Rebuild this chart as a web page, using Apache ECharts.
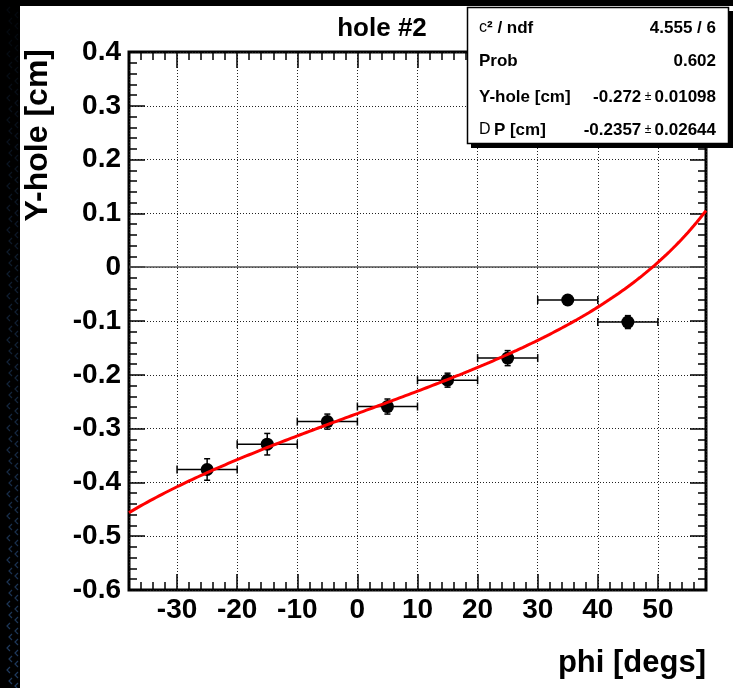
<!DOCTYPE html>
<html>
<head>
<meta charset="utf-8">
<script src="https://cdn.jsdelivr.net/npm/echarts@6/dist/echarts.min.js"></script>
<style>
  html, body { margin: 0; padding: 0; background: #000; }
  #chart { width: 733px; height: 688px; }
</style>
</head>
<body>
<div id="chart"></div>
<script>
// Measured hole position per phi bin
const phiCenters    = [-25, -15, -5, 5, 15, 25, 35, 45];
const phiHalfWidths = [5, 5, 5, 5, 5, 5, 5, 5];
const yHoleValues   = [-0.376, -0.329, -0.287, -0.259, -0.210, -0.169, -0.061, -0.102];
const yHoleErrors   = [0.020, 0.020, 0.014, 0.014, 0.013, 0.014, 0.008, 0.012];

// Fit result: y = Yhole - dP * tan(phi)
const fitYHole  = -0.272;
const fitDeltaP = -0.2357;

// Axis ranges
const phiRange = [-38, 58];
const yRange   = [-0.6, 0.4];

// Fit statistics box
const statLabels = ['{sym|c}{sup|²}{b| / ndf}', '{b|Prob}', '{b|Y-hole [cm]}', '{sym|D} {b|P [cm]}'];
const statValues = ['{b|4.555 / 6}', '{b|0.602}', '{b|-0.272} {pm|±} {b|0.01098}', '{b|-0.2357} {pm|±} {b|0.02644}'];

const FONT = '"Liberation Sans", Arial, Helvetica, sans-serif';

const points = phiCenters.map((x, i) => [x, yHoleValues[i], phiHalfWidths[i], yHoleErrors[i]]);

// Fitted curve sampled across the phi axis
const fitCurve = [];
for (let p = phiRange[0]; p <= phiRange[1] + 1e-9; p += 0.5) {
  fitCurve.push([p, fitYHole - fitDeltaP * Math.tan(p * Math.PI / 180)]);
}

function errorBars(params, api) {
  const x = api.value(0), y = api.value(1), ex = api.value(2), ey = api.value(3);
  const l = api.coord([x - ex, y]), r = api.coord([x + ex, y]);
  const t = api.coord([x, y + ey]), b = api.coord([x, y - ey]);
  const style = { stroke: '#000', lineWidth: 1.5 };
  const line = (x1, y1, x2, y2) => ({ type: 'line', shape: { x1, y1, x2, y2 }, style });
  return {
    type: 'group',
    children: [
      line(l[0], l[1], r[0], r[1]),
      line(l[0], l[1] - 4, l[0], l[1] + 4),
      line(r[0], r[1] - 4, r[0], r[1] + 4),
      line(t[0], t[1], b[0], b[1]),
      line(t[0] - 3, t[1], t[0] + 3, t[1]),
      line(b[0] - 3, b[1], b[0] + 3, b[1])
    ]
  };
}

const tickStyle = { color: '#000', width: 1.5 };
const labelStyle = { fontSize: 28, fontWeight: 'bold', color: '#000', fontFamily: FONT };
const hiddenLine = { show: false, onZero: false };

function majorX(position, showLabels) {
  return {
    type: 'value', position, min: phiRange[0], max: phiRange[1],
    splitNumber: 10, minInterval: 10, maxInterval: 10,
    axisLine: hiddenLine,
    axisTick: { inside: true, length: 16, lineStyle: tickStyle },
    axisLabel: Object.assign({
      show: showLabels, margin: 6,
      formatter: v => (Math.abs(v % 10) < 1e-9 ? String(v) : '')
    }, labelStyle),
    splitLine: { show: showLabels, lineStyle: { color: '#222', width: 1, type: [1, 2] } }
  };
}
function minorX(position) {
  return {
    type: 'value', position, min: phiRange[0], max: phiRange[1], interval: 2,
    axisLine: hiddenLine,
    axisTick: { inside: true, length: 8, lineStyle: tickStyle },
    axisLabel: { show: false },
    splitLine: { show: false }
  };
}
function yAxisDef(position, showLabels) {
  return {
    type: 'value', position, min: yRange[0], max: yRange[1], interval: 0.1,
    axisLine: hiddenLine,
    axisTick: { inside: true, length: 16, lineStyle: tickStyle },
    minorTick: { show: true, splitNumber: 5, length: 8, lineStyle: tickStyle },
    axisLabel: Object.assign({ show: showLabels, margin: 8 }, labelStyle),
    splitLine: { show: showLabels, lineStyle: { color: '#222', width: 1, type: [1, 2] } }
  };
}

// Dark frame strips with a faint blue chevron texture on the left edge
const edgeMarks = [];
for (let y = 10, k = 0; y < 688; y += 11, k++) {
  const a = 0.06 + 0.4 * (y / 688);
  [[7 + (k % 2) * 2, y], [15, y + 5]].forEach(([x, yy]) => {
    edgeMarks.push({
      type: 'polyline',
      shape: { points: [[x + 3, yy - 3], [x, yy], [x + 3, yy + 3]] },
      style: { stroke: `rgba(70,130,210,${a.toFixed(2)})`, lineWidth: 1.2, fill: null },
      silent: true
    });
  });
}

const statRowsY = [28, 61, 97, 130];
const statRich = {
  b:   { fontSize: 17, fontWeight: 'bold', fontFamily: FONT, fill: '#000' },
  sym: { fontSize: 16, fontWeight: 'normal', fontFamily: FONT, fill: '#000' },
  sup: { fontSize: 17, fontWeight: 'bold', fontFamily: FONT, fill: '#000' },
  pm:  { fontSize: 12, fontWeight: 'normal', fontFamily: FONT, fill: '#000' }
};
// Stats box drawn on its own layer so it sits above the frame and grid
const statBox = [
  { type: 'rect', zlevel: 1, shape: { x: 471, y: 11, width: 262, height: 137 }, style: { fill: '#000' } },
  { type: 'rect', zlevel: 1, z2: 1, shape: { x: 467.5, y: 7.5, width: 261, height: 136 }, style: { fill: '#fff', stroke: '#000', lineWidth: 1.5 } }
];
statLabels.forEach((txt, i) => {
  statBox.push({
    type: 'text', zlevel: 1, z2: 2, x: 479, y: statRowsY[i],
    style: { text: txt, rich: statRich, align: 'left', verticalAlign: 'middle' }
  });
  statBox.push({
    type: 'text', zlevel: 1, z2: 2, x: 716, y: statRowsY[i],
    style: { text: statValues[i], rich: statRich, align: 'right', verticalAlign: 'middle' }
  });
});

const chart = echarts.init(document.getElementById('chart'), null, { renderer: 'canvas' });
chart.setOption({
  animation: false,
  backgroundColor: '#fff',
  grid: {
    left: 129, right: 27, top: 52, bottom: 98,
    show: true, borderColor: '#000', borderWidth: 3, backgroundColor: 'transparent',
    outerBoundsMode: 'none'
  },
  xAxis: [majorX('bottom', true), minorX('bottom'), majorX('top', false), minorX('top')],
  yAxis: [yAxisDef('left', true), yAxisDef('right', false)],
  graphic: [
    { type: 'rect', shape: { x: 0, y: 0, width: 20, height: 688 }, style: { fill: '#000' }, silent: true },
    { type: 'rect', shape: { x: 0, y: 0, width: 733, height: 6 }, style: { fill: '#000' }, silent: true },
    ...edgeMarks,
    {
      type: 'text', x: 382, y: 29,
      style: { text: 'hole #2', fontSize: 26, fontWeight: 'bold', fontFamily: FONT, fill: '#000', align: 'center', verticalAlign: 'middle' }
    },
    {
      type: 'text', x: 38, y: 49, rotation: Math.PI / 2,
      style: { text: 'Y-hole [cm]', fontSize: 32, fontWeight: 'bold', fontFamily: FONT, fill: '#000', align: 'right', verticalAlign: 'middle' }
    },
    {
      type: 'text', x: 706, y: 663,
      style: { text: 'phi [degs]', fontSize: 31, fontWeight: 'bold', fontFamily: FONT, fill: '#000', align: 'right', verticalAlign: 'middle' }
    },
    ...statBox
  ],
  series: [
    {
      type: 'custom', xAxisIndex: 0, yAxisIndex: 0,
      renderItem: errorBars,
      encode: { x: 0, y: 1 },
      data: points,
      z: 3,
      markLine: {
        silent: true, symbol: 'none', label: { show: false },
        lineStyle: { color: '#555', width: 1.5, type: 'solid' },
        data: [{ yAxis: 0 }]
      }
    },
    {
      type: 'scatter', xAxisIndex: 0, yAxisIndex: 0,
      data: points.map(p => [p[0], p[1]]),
      symbol: 'circle', symbolSize: 13,
      itemStyle: { color: '#000', opacity: 1 },
      z: 4
    },
    {
      type: 'line', xAxisIndex: 0, yAxisIndex: 0,
      data: fitCurve, showSymbol: false, smooth: false, clip: true,
      lineStyle: { color: '#ff0000', width: 3 },
      z: 5
    }
  ]
});
</script>
</body>
</html>
